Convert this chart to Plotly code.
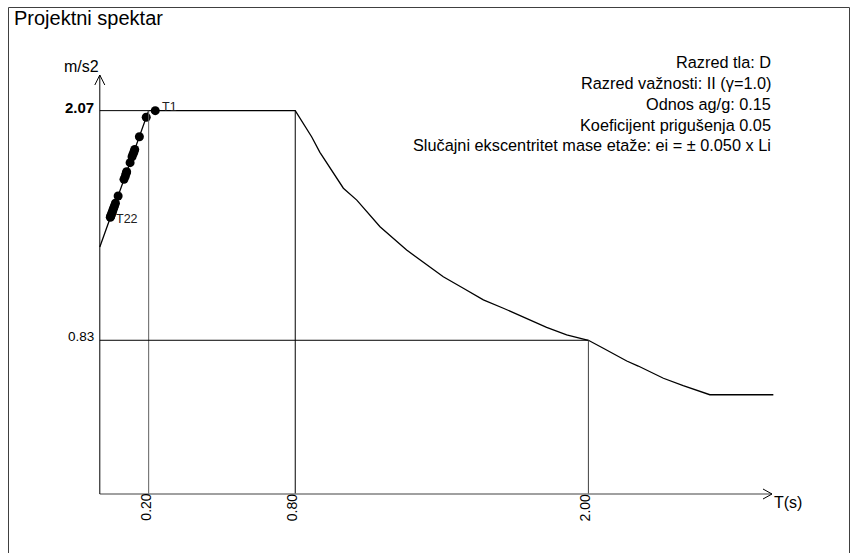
import plotly.graph_objects as go

# ---------------- data ----------------
spectrum_T = [0.0, 0.2, 0.8, 0.867, 0.901, 0.997, 1.052, 1.147, 1.256, 1.406, 1.488,
              1.570, 1.652, 1.747, 1.829, 1.911, 2.0, 2.061, 2.157, 2.204, 2.307,
              2.388, 2.456, 2.497, 2.757]
spectrum_Sa = [1.334, 2.07, 2.07, 1.929, 1.845, 1.651, 1.587, 1.443, 1.317, 1.173, 1.111,
               1.048, 1.003, 0.949, 0.900, 0.859, 0.83, 0.787, 0.718, 0.691, 0.625,
               0.585, 0.552, 0.536, 0.536]

period_T = [0.227, 0.190, 0.162, 0.143, 0.140, 0.136, 0.132, 0.124, 0.110, 0.108, 0.104,
            0.099, 0.075, 0.064, 0.060, 0.057, 0.054, 0.052, 0.049, 0.046, 0.045, 0.043]
period_Sa = [2.07, 2.034, 1.929, 1.86, 1.848, 1.835, 1.821, 1.789, 1.74, 1.732, 1.715,
             1.699, 1.609, 1.57, 1.555, 1.545, 1.534, 1.525, 1.516, 1.505, 1.50, 1.494]
period_labels = ["T%d" % (i + 1) for i in range(len(period_T))]

x_ticks = [0.20, 0.80, 2.00]
x_tick_labels = ["0.20", "0.80", "2.00"]
y_plateau = 2.07
y_td = 0.83
y_tick_labels = ["2.07", "0.83"]

info_lines = [
    "Razred tla: D",
    "Razred važnosti: II (γ=1.0)",
    "Odnos ag/g: 0.15",
    "Koeficijent prigušenja 0.05",
    "Slučajni ekscentritet mase etaže: ei = ± 0.050 x Li",
]

# ---------------- geometry ----------------
W, H = 857, 553
ML, MR, MT, MB = 80, 60, 40, 40
PX_PER_S = 244.3
PX_PER_U = 185.2
X0_PX, Y0_PX = 99.8, 494.0
xr = [(ML - X0_PX) / PX_PER_S, (W - MR - X0_PX) / PX_PER_S]
yr = [(Y0_PX - (H - MB)) / PX_PER_U, (Y0_PX - MT) / PX_PER_U]

def dx(px):
    return px / PX_PER_S

def dy(px):
    return px / PX_PER_U

def paper_x(px):
    return (px - ML) / (W - ML - MR)

def paper_y(py):
    return ((H - MB) - py) / (H - MT - MB)

FONT = "Liberation Sans, Arial, sans-serif"

fig = go.Figure()

fig.add_trace(go.Scatter(x=spectrum_T, y=spectrum_Sa, mode="lines",
                         line=dict(color="black", width=1.3), hoverinfo="skip",
                         showlegend=False, cliponaxis=False))
fig.add_trace(go.Scatter(x=period_T, y=period_Sa, mode="markers",
                         marker=dict(color="black", size=9),
                         text=period_labels, showlegend=False, cliponaxis=False))

shapes = []
line_black = dict(color="black", width=1)
line_gray = dict(color="#606060", width=1)
# reference lines
shapes.append(dict(type="line", x0=0, x1=x_ticks[0], y0=y_plateau, y1=y_plateau, line=line_black))
shapes.append(dict(type="line", x0=x_ticks[0], x1=x_ticks[0], y0=0, y1=y_plateau, line=line_gray))
shapes.append(dict(type="line", x0=x_ticks[1], x1=x_ticks[1], y0=0, y1=y_plateau, line=line_black))
shapes.append(dict(type="line", x0=0, x1=x_ticks[2], y0=y_td, y1=y_td, line=line_black))
shapes.append(dict(type="line", x0=x_ticks[2], x1=x_ticks[2], y0=0, y1=y_td, line=dict(color="#404040", width=1)))
# axes with arrows
x_end = dx(772 - X0_PX)
y_end = dy(Y0_PX - 75)
shapes.append(dict(type="line", x0=0, x1=x_end, y0=0, y1=0, line=dict(color="#808080", width=1.6)))
shapes.append(dict(type="line", x0=0, x1=0, y0=0, y1=y_end, line=dict(color="black", width=1)))
shapes.append(dict(type="path",
                   path="M %f,%f L %f,%f L %f,%f" % (x_end - dx(9), dy(5), x_end, 0, x_end - dx(9), -dy(5)),
                   line=dict(color="black", width=1)))
shapes.append(dict(type="path",
                   path="M %f,%f L %f,%f L %f,%f" % (-dx(5), y_end - dy(10), 0, y_end, dx(5), y_end - dy(10)),
                   line=dict(color="black", width=1)))
# frame
shapes.append(dict(type="path", xref="paper", yref="paper",
                   path="M %f,%f L %f,%f L %f,%f L %f,%f" % (
                       paper_x(8.5), paper_y(560), paper_x(8.5), paper_y(7.5),
                       paper_x(849.5), paper_y(7.5), paper_x(849.5), paper_y(560)),
                   line=dict(color="#404040", width=1)))

ann = []
# title
ann.append(dict(xref="paper", yref="paper", x=paper_x(12), y=paper_y(18), text="Projektni spektar",
                showarrow=False, xanchor="left", yanchor="middle",
                font=dict(family=FONT, size=20, color="black")))
# y tick labels
ann.append(dict(x=-dx(4), y=y_plateau + dy(3), text="<b>%s</b>" % y_tick_labels[0],
                showarrow=False, xanchor="right", yanchor="middle",
                font=dict(family=FONT, size=15, color="black")))
ann.append(dict(x=-dx(4), y=y_td + dy(4), text=y_tick_labels[1],
                showarrow=False, xanchor="right", yanchor="middle",
                font=dict(family=FONT, size=13.5, color="black")))
# x tick labels
for val, lab in zip(x_ticks, x_tick_labels):
    ann.append(dict(x=val - dx(3.5), y=-dy(13.5), text=lab, textangle=-90,
                    showarrow=False, xanchor="center", yanchor="middle",
                    font=dict(family=FONT, size=14, color="black")))
# axis titles
ann.append(dict(x=-dx(18.5), y=y_end + dy(9), text="m/s2", showarrow=False,
                xanchor="center", yanchor="middle", font=dict(family=FONT, size=16, color="black")))
ann.append(dict(x=x_end, y=-dy(8), text="T(s)", showarrow=False,
                xanchor="left", yanchor="middle", font=dict(family=FONT, size=16, color="black")))
# period labels T1 and T22
ann.append(dict(x=period_T[0] + dx(4.5), y=period_Sa[0] + dy(4), text=period_labels[0],
                showarrow=False, xanchor="left", yanchor="middle",
                font=dict(family=FONT, size=12.5, color="#202020")))
ann.append(dict(x=period_T[-1] + dx(4), y=period_Sa[-1] - dy(2), text=period_labels[-1],
                showarrow=False, xanchor="left", yanchor="middle",
                font=dict(family=FONT, size=12.5, color="#202020")))
# info block
info_y = [62, 83, 104, 124.5, 145]
for txt, py in zip(info_lines, info_y):
    ann.append(dict(x=dx(773 - X0_PX), y=dy(Y0_PX - py), text=txt, showarrow=False,
                    xanchor="right", yanchor="middle",
                    font=dict(family=FONT, size=16.3, color="black")))

fig.update_layout(
    width=W, height=H,
    margin=dict(l=ML, r=MR, t=MT, b=MB),
    paper_bgcolor="white", plot_bgcolor="white",
    xaxis=dict(range=xr, visible=False, fixedrange=True),
    yaxis=dict(range=yr, visible=False, fixedrange=True),
    shapes=shapes, annotations=ann, showlegend=False,
)

fig.write_html("out.html", config={"displayModeBar": False},
               post_script="document.body.style.margin='0px';document.body.style.overflow='hidden';")
